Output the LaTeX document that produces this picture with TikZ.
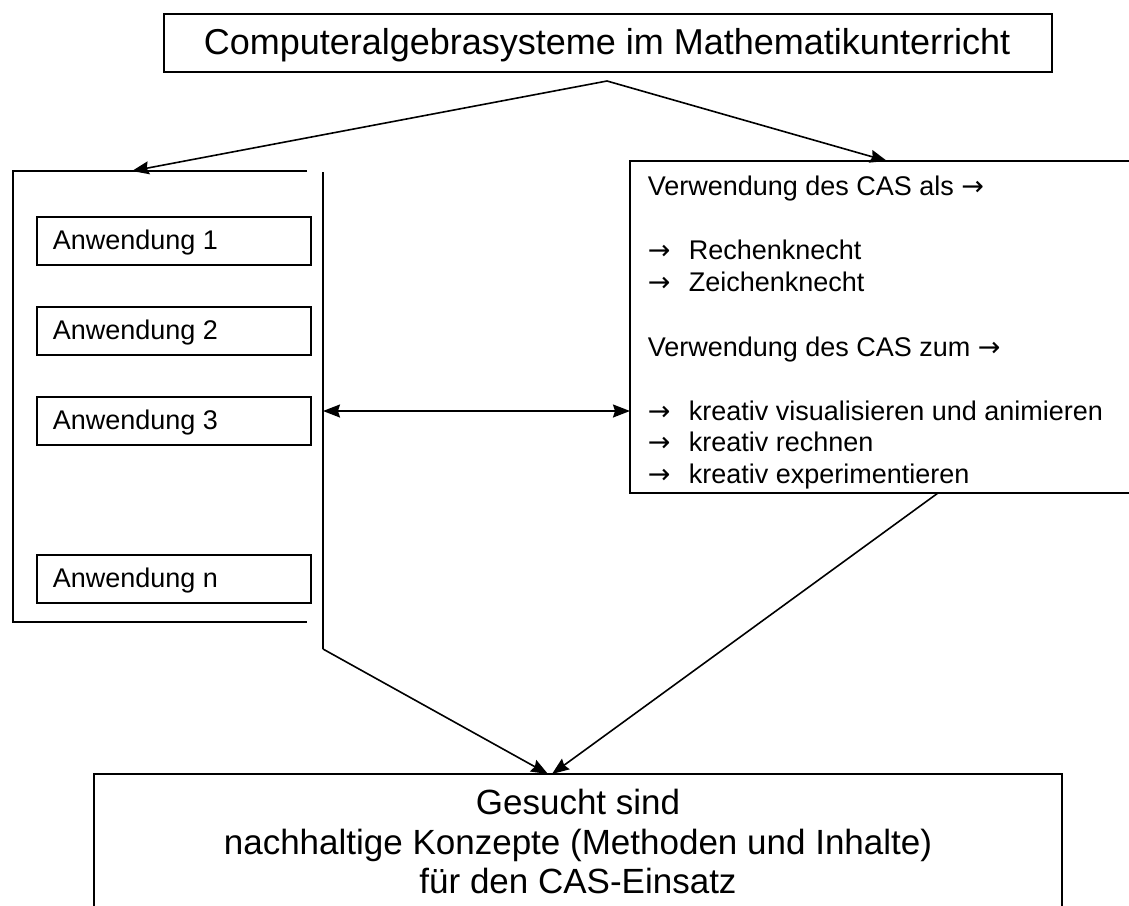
\documentclass[tikz,border=0pt]{standalone}
\usepackage{fontspec}
\setmainfont{Liberation Sans}
\newfontfamily\arrfont{DejaVu Sans}
\newcommand{\rarr}{{\arrfont →}}
\usetikzlibrary{arrows.meta}
\begin{document}
\begin{tikzpicture}[x=1pt,y=-1pt,line width=1.6pt,
  box/.style={draw,anchor=north west,inner sep=0pt},
  abox/.style={box,minimum width=274pt,minimum height=48pt},
  txt/.style={anchor=base west,inner sep=0pt,font=\fontsize{27}{32}\selectfont},
  big/.style={anchor=base,inner sep=0pt,font=\fontsize{35}{40}\selectfont},
  conn/.style={-{Stealth[length=17pt,width=13pt,inset=2pt]}},
  dconn/.style={{Stealth[length=17pt,width=13pt,inset=2pt]}-{Stealth[length=17pt,width=13pt,inset=2pt]}}]
\useasboundingbox (0,0) rectangle (1129,905);
\fill[white] (0,0) rectangle (1129,905);

% top box
\node[box,minimum width=888pt,minimum height=58pt] (top) at (163,13) {};
\node[anchor=base,inner sep=0pt,font=\fontsize{36}{40}\selectfont] (toptxt) at (607,54) {Computeralgebrasysteme im Mathematikunterricht};
\coordinate (apex) at (607,81);

% left bracket
\coordinate (lbTR) at (307,171);
\coordinate (lbTL) at (13,171);
\coordinate (lbBL) at (13,622);
\coordinate (lbBR) at (307,622);
\draw (lbTR) -- (lbTL) -- (lbBL) -- (lbBR);
\coordinate (lbTip) at (132,171);
\coordinate (vTop) at (323,172);
\coordinate (vBot) at (323,649);
\coordinate (vMid) at (323,411);
\draw (vTop) -- (vBot);

% Anwendung boxes
\node[abox] (a1) at (36,216) {};
\node[txt] (a1t) at (52,249) {Anwendung 1};
\node[abox] (a2) at (36,306) {};
\node[txt] (a2t) at (52,339) {Anwendung 2};
\node[abox] (a3) at (36,396) {};
\node[txt] (a3t) at (52,429) {Anwendung 3};
\node[abox] (an) at (36,554) {};
\node[txt] (ant) at (52,587) {Anwendung n};

% right box
\coordinate (rTR) at (1130,161);
\coordinate (rTL) at (630,161);
\coordinate (rBL) at (630,493);
\coordinate (rBR) at (1130,493);
\draw (rTR) -- (rTL) -- (rBL) -- (rBR);
\coordinate (rTip) at (887,161);
\coordinate (rMid) at (630,411);
\coordinate (rOut) at (938,493);

\node[txt] (r1) at (647,195) {Verwendung des CAS als \rarr};
\node[txt] (r2a) at (647,259) {\rarr};
\node[txt] (r2) at (688,259) {Rechenknecht};
\node[txt] (r3a) at (647,291) {\rarr};
\node[txt] (r3) at (688,291) {Zeichenknecht};
\node[txt] (r4) at (647,356) {Verwendung des CAS zum \rarr};
\node[txt] (r5a) at (647,420) {\rarr};
\node[txt] (r5) at (688,420) {kreativ visualisieren und animieren};
\node[txt] (r6a) at (647,451) {\rarr};
\node[txt] (r6) at (688,451) {kreativ rechnen};
\node[txt] (r7a) at (647,483) {\rarr};
\node[txt] (r7) at (688,483) {kreativ experimentieren};

% bottom box
\coordinate (bBL) at (94,906);
\coordinate (bTL) at (94,774);
\coordinate (bTR) at (1062,774);
\coordinate (bBR) at (1062,906);
\draw (bBL) -- (bTL) -- (bTR) -- (bBR);
\coordinate (bTip1) at (548,774);
\coordinate (bTip2) at (552,774);
\node[big] (b1) at (578,814) {Gesucht sind};
\node[big] (b2) at (578,854) {nachhaltige Konzepte (Methoden und Inhalte)};
\node[big] (b3) at (578,893) {für den CAS-Einsatz};

% connectors
\draw[conn] (apex) -- (lbTip);
\draw[conn] (apex) -- (rTip);
\draw[conn] (vBot) -- (bTip1);
\draw[conn] (rOut) -- (bTip2);
\draw[dconn] (vMid) -- (rMid);
\end{tikzpicture}
\end{document}
